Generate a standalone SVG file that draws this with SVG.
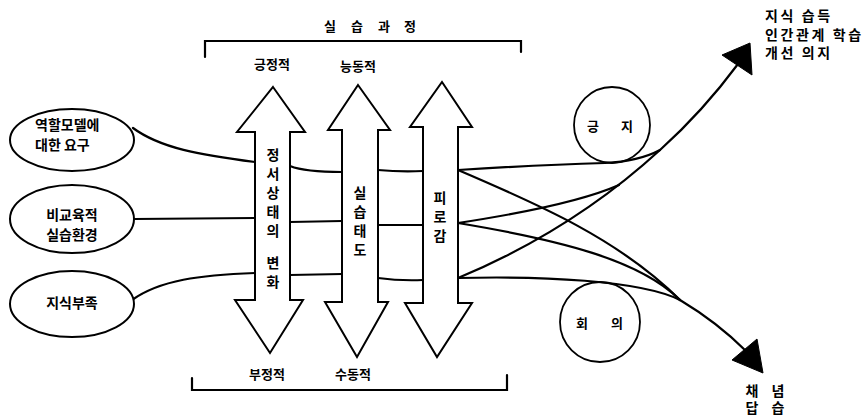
<svg xmlns="http://www.w3.org/2000/svg" width="865" height="417" viewBox="0 0 865 417">
<style>
  .ln { fill: none; stroke: #000; stroke-width: 2.2; stroke-linecap: round; }
  .shape { fill: #fff; stroke: #000; stroke-width: 2; stroke-linejoin: miter; }
  .t { font-family: "Noto Sans CJK KR", "Noto Sans", sans-serif; font-weight: bold; font-size: 14px; fill: #000; }
  .c { text-anchor: middle; dominant-baseline: central; }
  .s { font-size: 13px; }
  .v { writing-mode: vertical-rl; letter-spacing: 4.8px; }
  .head { fill: #000; stroke: #000; stroke-width: 1; stroke-linejoin: round; }
</style>
<rect width="865" height="417" fill="#fff"/>

<g id="title">
  <text class="t s c" x="330 357 384 410" y="25">실습과정</text>
  <path class="ln" d="M205,57 L205,41 L521,41 L521,52" stroke-width="1.8"/>
</g>
<g id="bottom-bracket">
  <path class="ln" d="M192,378 L192,390 L507,390 L507,375" stroke-width="1.8"/>
</g>

<g id="connectors">
  <path class="ln" d="M133,128 C160,148 200,155 255,162"/>
  <path class="ln" d="M134,219 L255,218"/>
  <path class="ln" d="M132,300 C160,280 200,275 255,273"/>
  <path class="ln" d="M290,166 Q305,172 342,172"/>
  <path class="ln" d="M378,170 Q400,172 423,171"/>
  <path class="ln" d="M290,222 L342,221"/>
  <path class="ln" d="M378,225 L423,225"/>
  <path class="ln" d="M290,275 L342,274"/>
  <path class="ln" d="M378,278 Q400,281 423,280"/>
  <path class="ln" d="M458,278 C530,248 600,205 660,150 C690,123 715,95 738,64"/>
  <path class="ln" d="M458,223 C530,212 585,200 619,185"/>
  <path class="ln" d="M458,170 C520,166 570,164 605,163 C625,162 645,158 660,150"/>
  <path class="ln" d="M458,170 C540,205 620,240 680,300"/>
  <path class="ln" d="M458,223 C560,240 640,260 680,300"/>
  <path class="ln" d="M458,278 C540,276 640,280 680,300"/>
  <path class="ln" d="M680,300 C705,315 725,330 746,351"/>
  <polygon class="head" points="722,55 750,43 752,75"/>
  <polygon class="head" points="732,360 757,339 763,373"/>
</g>

<g id="node-role-model">
  <ellipse class="shape" cx="72" cy="140" rx="62" ry="31"/>
  <text class="t" x="35" y="124" dominant-baseline="central">역할모델에</text>
  <text class="t" x="35" y="144" dominant-baseline="central">대한 요구</text>
</g>
<g id="node-environment">
  <ellipse class="shape" cx="72" cy="219" rx="62" ry="34"/>
  <text class="t c" x="72" y="214">비교육적</text>
  <text class="t c" x="72" y="234">실습환경</text>
</g>
<g id="node-knowledge">
  <ellipse class="shape" cx="72" cy="304" rx="62" ry="33"/>
  <text class="t c" x="72" y="302">지식부족</text>
</g>

<g id="arrow-emotion">
  <polygon class="shape" points="273,87 305,132 290,132 290,300 303,300 270,353 235,300 255,300 255,132 237,132"/>
  <text class="t v" x="273" y="148">정서상태의</text>
  <text class="t v" x="273" y="256">변화</text>
</g>
<g id="arrow-attitude">
  <polygon class="shape" points="358,85 390,130 378,130 378,302 388,302 357,357 325,302 342,302 342,130 328,130"/>
  <text class="t v" x="360" y="186">실습태도</text>
</g>
<g id="arrow-fatigue">
  <polygon class="shape" points="442,82 472,127 458,127 458,303 472,303 437,357 405,303 423,303 423,127 410,127"/>
  <text class="t v" x="440" y="191">피로감</text>
</g>

<g id="labels">
  <text class="t s c" x="272" y="63">긍정적</text>
  <text class="t s c" x="358" y="65">능동적</text>
  <text class="t s c" x="267" y="373">부정적</text>
  <text class="t s c" x="353" y="373">수동적</text>
</g>

<g id="node-pride">
  <circle cx="612" cy="125" r="38" fill="none" stroke="#000" stroke-width="1.8"/>
  <text class="t s c" x="593 627" y="125">긍지</text>
</g>
<g id="node-doubt">
  <circle cx="600" cy="322" r="40" fill="none" stroke="#000" stroke-width="1.8"/>
  <text class="t s c" x="582 617" y="322">회의</text>
</g>

<g id="outcome-positive">
  <text class="t" x="765" y="15" dominant-baseline="central" font-size="12.5" letter-spacing="2.6">지식 습득</text>
  <text class="t" x="765" y="33.5" dominant-baseline="central" font-size="12.5" letter-spacing="2.6">인간관계 학습</text>
  <text class="t" x="765" y="52" dominant-baseline="central" font-size="12.5" letter-spacing="2.6">개선 의지</text>
</g>
<g id="outcome-negative">
  <text class="t" font-size="12" writing-mode="vertical-rl" letter-spacing="3" x="752" y="384">채답</text>
  <text class="t" font-size="12" writing-mode="vertical-rl" letter-spacing="3" x="778" y="384">념습</text>
</g>
</svg>
